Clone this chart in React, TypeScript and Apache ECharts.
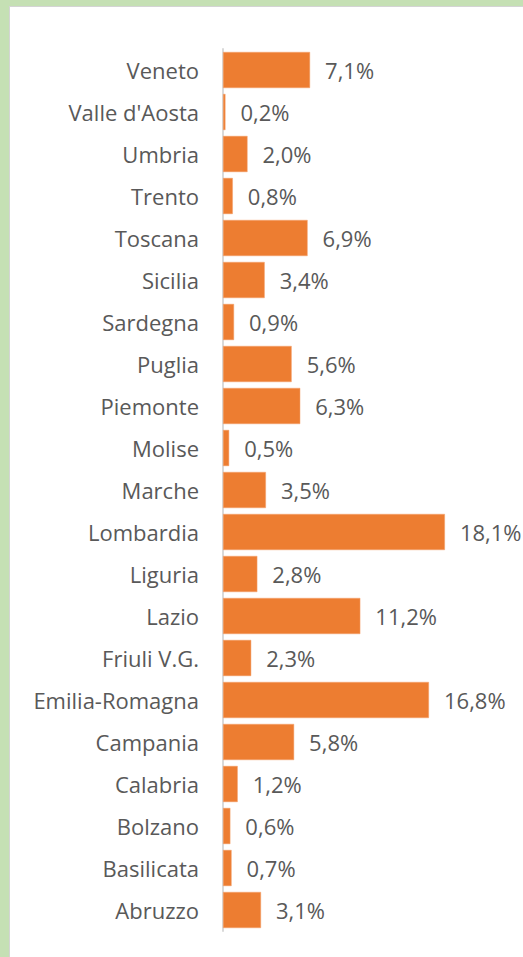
import React, { useEffect, useRef } from "react";
import * as echarts from "echarts";

const categories = [
  "Veneto", "Valle d'Aosta", "Umbria", "Trento", "Toscana", "Sicilia", "Sardegna",
  "Puglia", "Piemonte", "Molise", "Marche", "Lombardia", "Liguria", "Lazio",
  "Friuli V.G.", "Emilia-Romagna", "Campania", "Calabria", "Bolzano", "Basilicata", "Abruzzo",
];
const values = [
  7.1, 0.2, 2.0, 0.8, 6.9, 3.4, 0.9, 5.6, 6.3, 0.5, 3.5, 18.1, 2.8, 11.2, 2.3, 16.8, 5.8, 1.2, 0.6, 0.7, 3.1,
];

const FONT = "'Open Sans', 'Noto Sans', sans-serif";

export default function App() {
  const ref = useRef<HTMLDivElement>(null);
  useEffect(() => {
    document.body.style.margin = "0";
    const chart = echarts.init(ref.current!, null, { renderer: "svg" });
    chart.setOption({
      animation: false,
      backgroundColor: "transparent",
      grid: { left: 223, top: 49, width: 245.2, height: 882, containLabel: false },
      xAxis: {
        type: "value",
        min: 0,
        max: 20,
        show: false,
      },
      yAxis: {
        type: "category",
        data: categories,
        inverse: true,
        axisLine: { show: true, lineStyle: { color: "#d9d9d9", width: 2 } },
        axisTick: { show: false },
        axisLabel: { color: "#595959", fontSize: 22, fontFamily: FONT, margin: 24 },
      },
      series: [
        {
          type: "bar",
          data: values,
          barCategoryGap: "14%",
          itemStyle: { color: "#ed7d31", borderColor: "#f4a36e", borderWidth: 0.5 },
          label: {
            show: true,
            position: "right",
            distance: 15,
            color: "#595959",
            fontSize: 22,
            fontFamily: FONT,
            formatter: (p: any) => p.value.toFixed(1).replace(".", ",") + "%",
          },
        },
      ],
    });
    return () => chart.dispose();
  }, []);
  return (
    <div style={{ position: "fixed", left: 0, top: 0, width: 523, height: 957, background: "#c5e0b4", overflow: "hidden" }}>
      <div style={{ position: "absolute", left: 9, top: 6, right: -2, bottom: -2, background: "#fff", borderTop: "1px solid #d4d4d4", borderLeft: "1px solid #d4d4d4" }} />
      <div ref={ref} style={{ position: "absolute", left: 0, top: 0, width: 523, height: 957 }} />
    </div>
  );
}
